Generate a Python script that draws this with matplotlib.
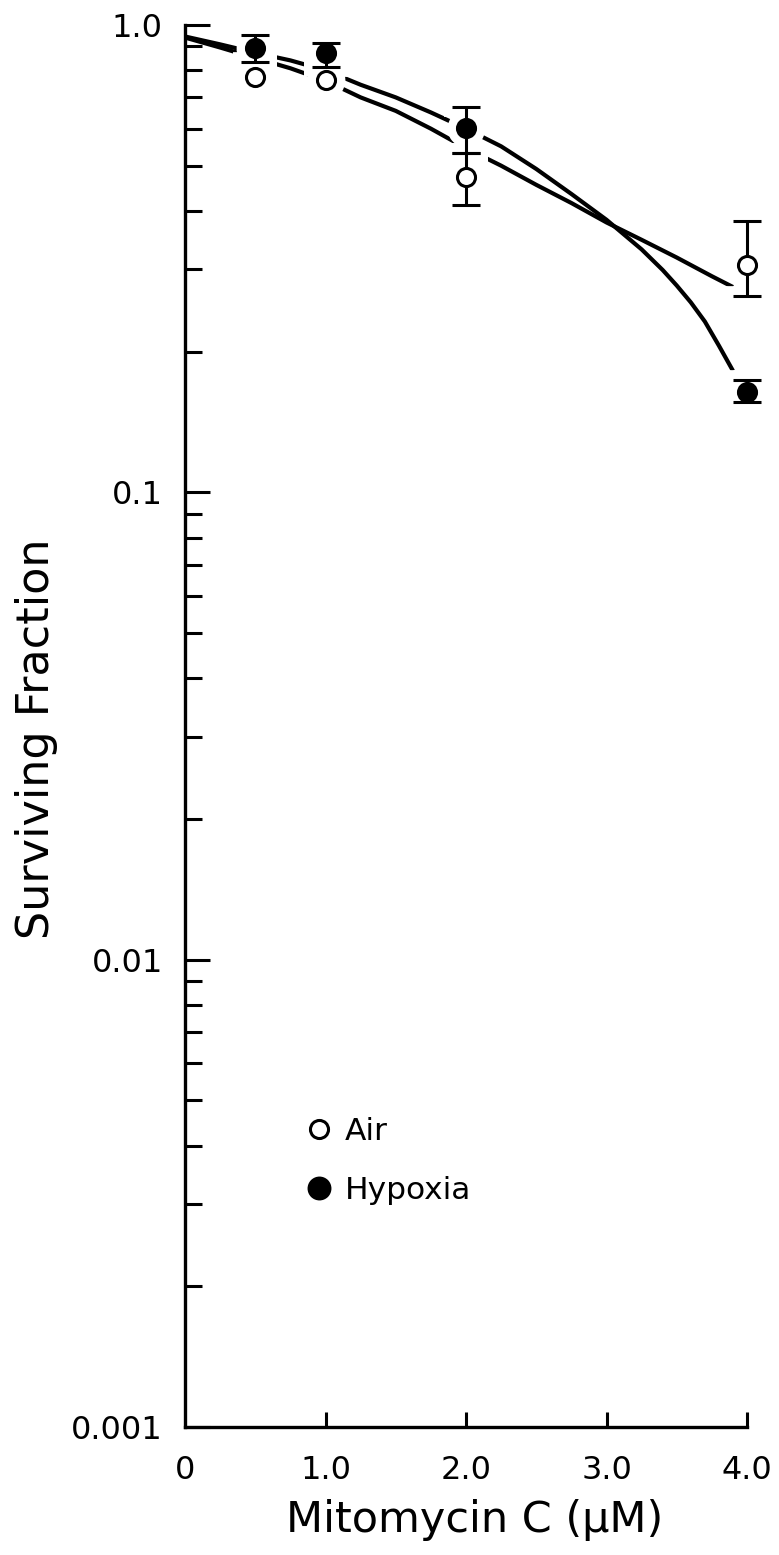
import numpy as np
import matplotlib
matplotlib.use("Agg")
import matplotlib.pyplot as plt
from matplotlib.lines import Line2D

# measured survival, mean and error bar limits
dose = [0.5, 1.0, 2.0, 4.0]
air_sf = [0.775, 0.762, 0.473, 0.306]
air_hi = [np.nan, np.nan, 0.533, 0.381]
air_lo = [np.nan, np.nan, 0.411, 0.263]
hyp_sf = [0.891, 0.870, 0.601, 0.164]
hyp_hi = [0.952, 0.914, 0.668, 0.174]
hyp_lo = [0.834, 0.814, 0.533, 0.156]

# fitted survival curves
air_fit_x = [0, 0.25, 0.5, 0.75, 1.0, 1.25, 1.5, 1.75, 2.0, 2.25, 2.5, 2.75,
             3.0, 3.25, 3.5, 3.75, 3.9]
air_fit = [0.94, 0.895, 0.85, 0.808, 0.76, 0.70, 0.655, 0.60, 0.545, 0.50,
           0.455, 0.416, 0.378, 0.347, 0.318, 0.290, 0.275]
hyp_fit_x = [0, 0.25, 0.5, 0.75, 1.0, 1.25, 1.5, 1.75, 2.0, 2.25, 2.5, 2.75,
             3.0, 3.25, 3.4, 3.5, 3.6, 3.7, 3.8, 3.9]
hyp_fit = [0.945, 0.909, 0.872, 0.84, 0.80, 0.745, 0.70, 0.65, 0.60, 0.55,
           0.492, 0.435, 0.383, 0.331, 0.299, 0.277, 0.255, 0.232, 0.206, 0.182]

x_ticks = [0, 1, 2, 3, 4]
x_labels = ["0", "1.0", "2.0", "3.0", "4.0"]
y_ticks = [1.0, 0.1, 0.01, 0.001]
y_labels = ["1.0", "0.1", "0.01", "0.001"]

W, H = 779, 1555
fig = plt.figure(figsize=(W / 100, H / 100), dpi=100)
ax = fig.add_axes([185 / W, 1 - 1427 / H, (747 - 185) / W, (1427 - 25) / H])
ax.set_yscale("log")
ax.set_xlim(0, 4.0)
ax.set_ylim(0.001, 1.0)

ax.plot(air_fit_x, air_fit, color="black", lw=3.0, solid_capstyle="butt", zorder=2)
ax.plot(hyp_fit_x, hyp_fit, color="black", lw=3.0, solid_capstyle="butt", zorder=2)

LW = 2.2      # marker edge / error bar width
GAP = 6.0     # white margin cut into the curves around the symbols


def draw_points(y, hi, lo, face, halo):
    y = np.array(y)
    err = np.array([y - np.array(lo), np.array(hi) - y])
    ok = ~np.isnan(err[0])
    d = np.array(dose)[ok]
    if halo:
        col, face, lw, cap, z = "white", "white", LW + 2 * GAP, 10 + GAP, 3
    else:
        col, lw, cap, z = "black", LW, 10, 5
    ax.plot(dose, y, marker="o", ms=13, mfc=face, mec=col, mew=lw, ls="none",
            clip_on=False, zorder=z)
    _, caps, bars = ax.errorbar(d, y[ok], yerr=err[:, ok], fmt="none",
                                ecolor=col, elinewidth=lw, capsize=cap,
                                capthick=lw, zorder=z - 0.5)
    for a in list(caps) + list(bars):
        a.set_clip_on(False)


# white margins first, then the symbols on top
for halo in (True, False):
    draw_points(hyp_sf, hyp_hi, hyp_lo, "black", halo)
    draw_points(air_sf, air_hi, air_lo, "white", halo)

for s in ("top", "right"):
    ax.spines[s].set_visible(False)
for s in ("left", "bottom"):
    ax.spines[s].set_linewidth(2.4)

ax.set_xticks(x_ticks)
ax.set_xticklabels(x_labels)
ax.set_yticks(y_ticks)
ax.set_yticklabels(y_labels)
ax.tick_params(axis="y", which="major", direction="in", length=18, width=2.2,
               labelsize=23, pad=16)
ax.tick_params(axis="y", which="minor", direction="in", length=12, width=2.2)
ax.tick_params(axis="x", which="major", direction="in", length=11, width=2.2,
               labelsize=23, pad=20)
ax.xaxis.get_major_ticks()[0].tick1line.set_visible(False)

ax.set_xlabel("Mitomycin C (\u03bcM)", fontsize=31)
ax.xaxis.set_label_coords(0.516, -0.0514)
ax.xaxis.label.set_va("top")
ax.set_ylabel("Surviving Fraction", fontsize=32)
ax.yaxis.set_label_coords(-0.226, 0.491)

handles = [
    Line2D([], [], marker="o", ms=13, mfc="white", mec="black", mew=2.2, ls="none"),
    Line2D([], [], marker="o", ms=15, mfc="black", mec="black", mew=2.2, ls="none"),
]
ax.legend(handles, ["Air", "Hypoxia"], loc="upper left",
          bbox_to_anchor=(306 / W, 1 - 1117 / H), bbox_transform=fig.transFigure,
          frameon=False, fontsize=22.5, handlelength=0.8, handletextpad=0.45,
          labelspacing=0.95, borderpad=0, borderaxespad=0)

fig.savefig("out.png", dpi=100)
